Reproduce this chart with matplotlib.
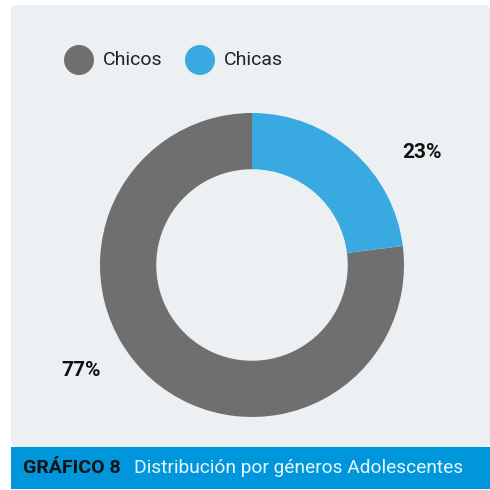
import matplotlib.pyplot as plt
from matplotlib.patches import FancyBboxPatch, Rectangle, Circle

# Data
categories = ["Chicos", "Chicas"]
values = [77, 23]
colors = ["#6f6f6f", "#39aae1"]
title_bold = "GRÁFICO 8"
title_rest = "Distribución por géneros Adolescentes"

W, H = 490, 490
fig = plt.figure(figsize=(W / 100, H / 100), dpi=100)
fig.patch.set_facecolor("white")

def fx(x):
    return x / W

def fy(y):
    return 1 - y / H

# Panel background
panel = FancyBboxPatch((fx(11), fy(447)), fx(490 - 11), (447 - 5) / H,
                       boxstyle="round,pad=0,rounding_size=0.012",
                       transform=fig.transFigure, facecolor="#edf0f2",
                       edgecolor="none", zorder=-2)
fig.patches.append(panel)

# Bottom banner
banner = Rectangle((fx(11), fy(489)), fx(490 - 11), (489 - 447) / H,
                   transform=fig.transFigure, facecolor="#0096dc",
                   edgecolor="none", zorder=-1)
fig.patches.append(banner)

fig.text(fx(23), fy(468), title_bold, fontsize=14, fontweight="bold",
         color="#111111", va="center", ha="left", family="Roboto")
fig.text(fx(134), fy(468), title_rest, fontsize=13.8, color="#eaf4fb",
         va="center", ha="left", family="Roboto")

# Donut
cx, cy, r = 252, 265, 152
ax = fig.add_axes([fx(cx - r), fy(cy + r), 2 * r / W, 2 * r / H])
ax.set_zorder(3)
ax.set_facecolor("none")
wedges, _ = ax.pie(values, colors=colors, startangle=90, counterclock=True,
                   radius=1, wedgeprops=dict(width=0.37, edgecolor="none"))
ax.set_xlim(-1, 1)
ax.set_ylim(-1, 1)
ax.set_aspect("equal")
ax.axis("off")

# Percentage labels
fig.text(fx(422), fy(153), f"{values[1]}%", fontsize=15, fontweight="bold",
         color="#111111", ha="center", va="center", family="Roboto")
fig.text(fx(81), fy(371), f"{values[0]}%", fontsize=15, fontweight="bold",
         color="#111111", ha="center", va="center", family="Roboto")

# Legend
lx = [79, 200]
for x, c, lab in zip(lx, colors, categories):
    fig.patches.append(Circle((fx(x), fy(60)), 15 / W, transform=fig.transFigure,
                              facecolor=c, edgecolor="none", zorder=2))
    fig.text(fx(x + 24), fy(60), lab, fontsize=14, color="#222222",
             ha="left", va="center", family="Roboto")

fig.savefig("out.png", dpi=100)
